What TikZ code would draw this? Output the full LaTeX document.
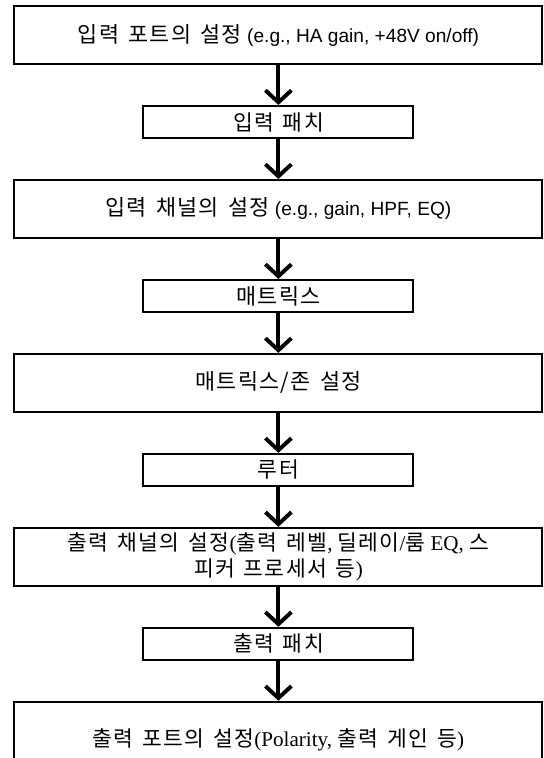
\documentclass[tikz,border=0pt]{standalone}
\usepackage{fontspec}
\setmainfont{Liberation Sans}
\newfontfamily\krfont[Scale=1.14,WordSpace=1.5,LetterSpace=6]{Noto Sans CJK KR}
\newfontfamily\serfont[Scale=1.12]{Liberation Serif}
\newcommand{\ko}[1]{{\krfont #1}}
\usetikzlibrary{positioning,arrows.meta,calc}

\begin{document}
\begin{tikzpicture}[
    bigbox/.style={draw, line width=1.4pt, minimum width=13.2cm, minimum height=1.45cm, inner sep=0pt, align=center},
    smallbox/.style={draw, line width=1.4pt, minimum width=6.75cm, minimum height=0.8cm, inner sep=0pt, align=center},
    sanstext/.style={font=\fontsize{13.6}{18.5}\selectfont},
    seriftext/.style={font=\fontsize{13.4}{18.5}\selectfont\serfont},
    flow/.style={line width=2.8pt, -{Straight Barb[length=3mm,width=6.5mm]}},
    node distance=1.0cm
]
    %frame
    \useasboundingbox (0,0) rectangle (13.6,-18.95);
    \coordinate (top) at (6.96,-0.875);

    %nodes
    \node[bigbox, sanstext] (inport) at (top) {\ko{입력 포트의 설정} (e.g., HA gain, +48V on/off)};
    \node[smallbox, seriftext, below=of inport] (inpatch) {\ko{입력 패치}};
    \node[bigbox, sanstext, below=of inpatch] (inchan) {\ko{입력 채널의 설정} (e.g., gain, HPF, EQ)};
    \node[smallbox, sanstext, below=of inchan] (matrix) {\ko{매트릭스}};
    \node[bigbox, sanstext, below=of matrix] (zone) {\ko{매트릭스/존 설정}};
    \node[smallbox, seriftext, below=of zone] (router) {\ko{루터}};
    \node[bigbox, seriftext, below=of router] (outchan) {\ko{출력 채널의 설정}(\ko{출력 레벨}, \ko{딜레이}/\ko{룸} EQ, \ko{스}\\\ko{피커 프로세서 등})};
    \node[smallbox, seriftext, below=of outchan] (outpatch) {\ko{출력 패치}};
    \node[bigbox, seriftext, minimum height=1.9cm, below=of outpatch] (outport) {\ko{출력 포트의 설정}(Polarity, \ko{출력 게인 등})};

    %edges
    \draw[flow] (inport) -- (inpatch);
    \draw[flow] (inpatch) -- (inchan);
    \draw[flow] (inchan) -- (matrix);
    \draw[flow] (matrix) -- (zone);
    \draw[flow] (zone) -- (router);
    \draw[flow] (router) -- (outchan);
    \draw[flow] (outchan) -- (outpatch);
    \draw[flow] (outpatch) -- (outport);
\end{tikzpicture}
\end{document}
